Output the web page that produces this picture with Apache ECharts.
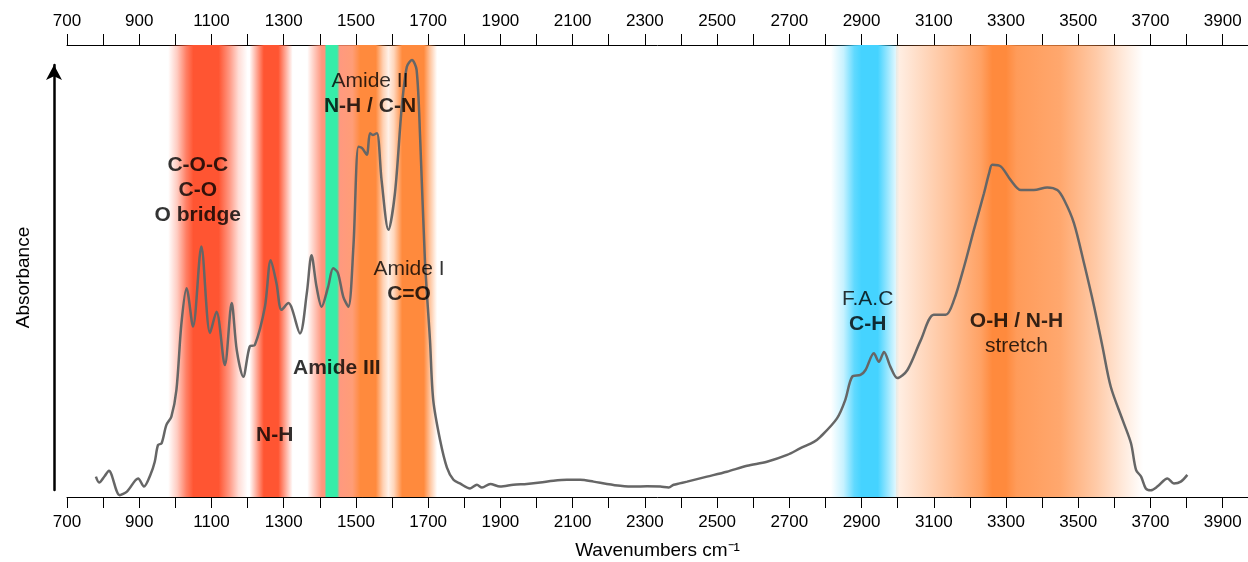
<!DOCTYPE html>
<html><head><meta charset="utf-8">
<script src="https://cdn.jsdelivr.net/npm/echarts@6/dist/echarts.min.js"></script>
<style>html,body{margin:0;padding:0;background:#fff}#c{width:1248px;height:562px}</style>
</head><body><div id="c"></div>
<script>
const wavenumbers = [780,789,804,816,846,866,897,913,931,943,952,962,975,989,1003,1017,1031,1049,1072,1096,1114,1137,1156,1170,1188,1206,1220,1248,1264,1280,1294,1313,1345,1364,1377,1391,1405,1423,1437,1450,1465,1479,1493,1507,1517,1530,1539,1547,1558,1571,1590,1608,1627,1641,1655,1668,1678,1691,1705,1714,1733,1752,1770,1788,1816,1835,1849,1872,1899,1936,1973,2010,2047,2084,2121,2158,2195,2232,2269,2306,2343,2366,2380,2417,2472,2527,2583,2638,2694,2731,2768,2786,2832,2855,2874,2897,2911,2934,2948,2962,2980,2999,3027,3064,3100,3133,3156,3184,3211,3239,3253,3262,3286,3313,3341,3377,3414,3442,3461,3488,3516,3544,3567,3590,3623,3646,3660,3674,3687,3701,3719,3747,3765,3784,3802];
const absorbance = [4.5,3.2,4.6,5.8,0.4,1.2,4.1,2.3,4.9,7.8,11.5,11.9,15.9,17.8,23.7,38.5,46.2,37.7,55.4,36.3,41.0,29.2,42.9,32.5,26.6,33.3,33.6,42.1,52.4,47.3,41.4,42.9,36.2,45.1,53.5,46.5,42.1,46.5,50.6,49.6,44.3,42.1,55.4,77.5,77.2,75.7,80.5,80.1,80.5,70.1,59.1,67.2,86.3,95.2,96.7,94.5,79.0,52.4,34.7,21.5,12.6,6.5,3.8,3.0,1.9,2.7,2.1,2.9,2.3,2.7,2.9,3.2,3.6,3.8,3.8,3.4,2.9,2.5,2.3,2.4,2.3,2.1,2.7,3.4,4.5,5.6,6.9,7.8,9.3,10.8,12.2,13.3,17.4,21.5,26.6,27.0,28.1,31.8,29.9,32.1,28.8,26.3,28.1,34.7,40.3,40.3,43.6,51.0,59.1,67.2,71.6,73.5,73.1,70.1,67.9,67.9,68.5,67.9,65.7,60.6,51.7,42.1,33.3,24.4,17.0,11.9,6.0,4.5,1.9,1.5,2.3,4.1,3.0,3.4,4.9];

const tickValues = [700,800,900,1000,1100,1200,1300,1400,1500,1600,1700,1800,1900,2000,2100,2200,2300,2400,2500,2600,2700,2800,2900,3000,3100,3200,3300,3400,3500,3600,3700,3800,3900];
const tickLabels = [700,900,1100,1300,1500,1700,1900,2100,2300,2500,2700,2900,3100,3300,3500,3700,3900];

// absorption bands: wavenumber stops and colours
const bandA = [[980,'rgba(255,85,50,0)'],[1005,'rgba(255,85,50,0.3)'],[1030,'rgba(255,85,50,0.75)'],[1050,'rgba(255,85,50,1)'],[1120,'rgba(255,85,50,1)'],[1150,'rgba(255,85,50,0.6)'],[1175,'rgba(255,85,50,0.2)'],[1200,'rgba(255,85,50,0)']];
const bandB = [[1205,'rgba(255,85,50,0)'],[1225,'rgba(255,85,50,0.5)'],[1245,'rgba(255,85,50,1)'],[1285,'rgba(255,85,50,1)'],[1305,'rgba(255,85,50,0.5)'],[1325,'rgba(255,85,50,0)']];
const bandC = [[1365,'rgba(255,110,80,0)'],[1385,'rgba(255,120,90,0.4)'],[1405,'rgba(255,125,95,0.8)'],[1413,'rgba(255,130,100,0.85)'],[1418,'#36EDA9'],[1448,'#36EDA9'],[1455,'rgba(255,135,105,0.85)'],[1490,'rgba(255,140,95,0.85)'],[1512,'#FF8A3D'],[1555,'#FF8A3D'],[1575,'rgba(255,138,61,0.4)'],[1590,'rgba(255,138,61,0.12)'],[1605,'rgba(255,138,61,0.35)'],[1628,'#FF8A3D'],[1688,'#FF8A3D'],[1705,'rgba(255,138,61,0.5)'],[1725,'rgba(255,138,61,0)']];
const bandD = [[2815,'rgba(69,211,255,0)'],[2850,'rgba(69,211,255,0.3)'],[2880,'rgba(69,211,255,0.85)'],[2900,'rgba(69,211,255,1)'],[2945,'rgba(69,211,255,1)'],[2975,'rgba(69,211,255,0.5)'],[3005,'rgba(69,211,255,0)']];
const bandE = [[2995,'rgba(255,138,61,0.12)'],[3060,'rgba(255,138,61,0.3)'],[3150,'rgba(255,138,61,0.55)'],[3230,'rgba(255,138,61,0.8)'],[3262,'rgba(255,138,61,1)'],[3300,'rgba(255,138,61,1)'],[3330,'rgba(255,138,61,0.85)'],[3450,'rgba(255,138,61,0.75)'],[3550,'rgba(255,138,61,0.45)'],[3620,'rgba(255,138,61,0.2)'],[3680,'rgba(255,138,61,0)']];
const bands = [bandA, bandB, bandC, bandD, bandE];

// annotations: text lines (b = bold, n = normal) and anchor (wavenumber, absorbance)
const annotationText = [
  [['b','C-O-C'],['b','C-O'],['b','O bridge']],
  [['b','N-H']],
  [['b','Amide III']],
  [['n','Amide II'],['b','N-H / C-N']],
  [['n','Amide I'],['b','C=O']],
  [['n','F.A.C'],['b','C-H']],
  [['b','O-H / N-H'],['n','stretch']]
];
const annotationX = [1062, 1275, 1447, 1539, 1647, 2917, 3329];
const annotationY = [67.9, 13.7, 28.5, 89.2, 47.6, 40.9, 36.1];

const FONT = 'Liberation Sans, Arial, sans-serif';
const chart = echarts.init(document.getElementById('c'), null, {renderer:'canvas'});

const markData = bands.map(stops => {
  const a = stops[0][0], b = stops[stops.length-1][0];
  return [{
    xAxis: a,
    itemStyle: {opacity: 1, color: {type:'linear', x:0, y:0, x2:1, y2:0,
      colorStops: stops.map(s => ({offset: (s[0]-a)/(b-a), color: s[1]}))}}
  }, {xAxis: b}];
});

const axisCommon = {
  type:'value', min:700, max:3970, gridIndex:0,
  axisLine:{show:true, onZero:false, lineStyle:{color:'#000', width:1}},
  axisTick:{show:true, length:11, customValues: tickValues, lineStyle:{color:'#000', width:1}},
  axisLabel:{customValues: tickLabels, fontSize:17, color:'#000', fontFamily:FONT, formatter: v => String(v)},
  splitLine:{show:false}
};

chart.setOption({
  animation:false,
  backgroundColor:'#fff',
  grid:[
    {left:67, right:0, top:45, bottom:65, containLabel:false, outerBoundsMode:'none'},
    {left:54, width:1, top:65, bottom:72, containLabel:false, outerBoundsMode:'none'}
  ],
  xAxis:[
    Object.assign({}, axisCommon, {position:'bottom',
      axisLabel:Object.assign({}, axisCommon.axisLabel, {margin:17}),
      name:'Wavenumbers cm\u207B\u00B9', nameLocation:'middle', nameGap:44,
      nameTextStyle:{fontSize:19, color:'#000', fontFamily:FONT}}),
    Object.assign({}, axisCommon, {position:'top',
      axisLabel:Object.assign({}, axisCommon.axisLabel, {margin:15})}),
    {type:'value', gridIndex:1, show:false}
  ],
  yAxis:[
    {type:'value', gridIndex:0, min:0, max:100, show:false},
    {type:'value', gridIndex:1, min:0, max:1, position:'left',
      axisLine:{show:true, symbol:['none','arrow'], symbolSize:[12,15], lineStyle:{color:'#000', width:2.5}},
      axisTick:{show:false}, axisLabel:{show:false}, splitLine:{show:false},
      name:'Absorbance', nameLocation:'middle', nameGap:21, nameRotate:90,
      nameTextStyle:{fontSize:19, color:'#000', fontFamily:FONT}}
  ],
  series:[
    {
      type:'line', xAxisIndex:0, yAxisIndex:0, z:5,
      data: wavenumbers.map((w,i) => [w, absorbance[i]]),
      symbol:'none', smooth:0.3,
      lineStyle:{color:'#666666', width:2.5},
      markArea:{silent:true, z:1, data:markData}
    },
    {
      type:'scatter', xAxisIndex:0, yAxisIndex:0, z:6, symbolSize:1, silent:true,
      itemStyle:{color:'rgba(0,0,0,0)'},
      data: annotationX.map((x,i) => [x, annotationY[i], i]),
      labelLayout:{hideOverlap:false},
      label:{show:true, position:'inside', color:'#000', textBorderWidth:0, fontFamily:FONT,
        formatter: p => annotationText[p.data[2]].map(l => '{' + l[0] + '|' + l[1] + '}').join('\n'),
        rich:{
          b:{fontSize:21, fontWeight:'bold', lineHeight:25, color:'#000', textBorderWidth:0, fontFamily:FONT, align:'center'},
          n:{fontSize:21, lineHeight:25, color:'#000', textBorderWidth:0, fontFamily:FONT, align:'center'}
        }
      },
      emphasis:{disabled:true}
    }
  ]
});
</script></body></html>
